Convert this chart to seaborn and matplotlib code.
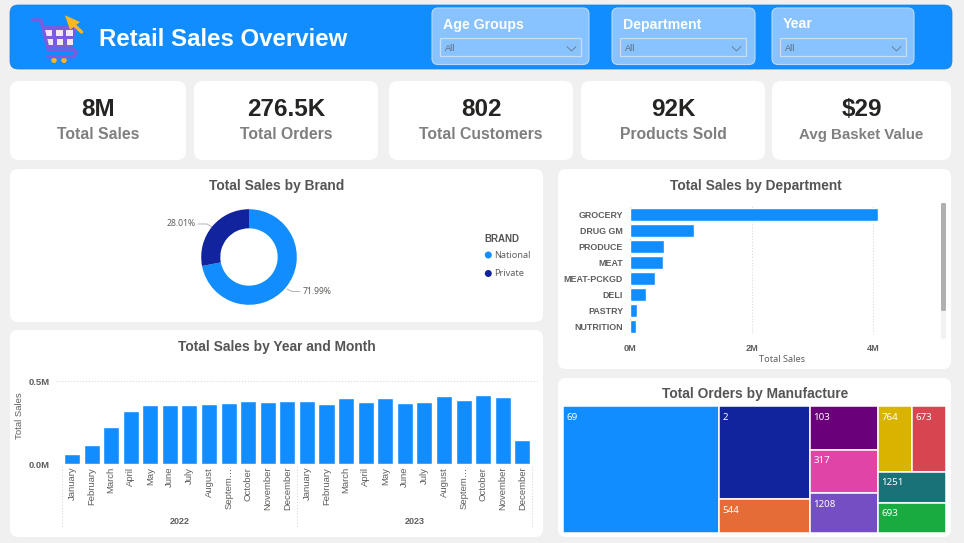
import matplotlib
matplotlib.use('Agg')
import matplotlib.pyplot as plt
import numpy as np
import pandas as pd
import seaborn as sns
from matplotlib.patches import Circle, FancyBboxPatch, Polygon, Rectangle

# chart values
brands = ['National', 'Private']
brand_share = [71.99, 28.01]

departments = ['GROCERY', 'DRUG GM', 'PRODUCE', 'MEAT', 'MEAT-PCKGD', 'DELI', 'PASTRY', 'NUTRITION']
department_sales = [4.07, 1.047, 0.553, 0.548, 0.405, 0.263, 0.12, 0.099]

months = ['January', 'February', 'March', 'April', 'May', 'June', 'July', 'August',
          'Septem…', 'October', 'November', 'December']
sales_2022 = [0.06, 0.115, 0.224, 0.32, 0.355, 0.357, 0.359, 0.365, 0.371, 0.379, 0.377, 0.381]
sales_2023 = [0.383, 0.361, 0.397, 0.375, 0.397, 0.371, 0.373, 0.409, 0.387, 0.415, 0.405, 0.147]

manufacturers = ['69', '2', '544', '103', '317', '1208', '764', '673', '1251', '693']
orders = [19828, 8450, 3041, 2961, 2936, 2692, 2250, 2250, 2124, 2055]
# how the treemap nests: columns, then rows, then cells
manufacturer_groups = [[0], [1, 2], [3, 4, 5], [[6, 7], 8, 9]]

kpi_values = ['8M', '276.5K', '802', '92K', '$29']
kpi_labels = ['Total Sales', 'Total Orders', 'Total Customers', 'Products Sold', 'Avg Basket Value']
slicers = ['Age Groups', 'Department', 'Year']

BLUE = '#118DFF'
NAVY = '#12239E'
TITLE = '#555555'
TEXT = '#605E5C'
tree_colors = [BLUE, NAVY, '#E66C37', '#6B007B', '#E044A7', '#744EC2',
               '#D9B300', '#D64550', '#197278', '#1AAB40']

sns.set_theme(style='white')
plt.rcParams['font.family'] = ['Liberation Sans', 'DejaVu Sans']

W, H = 964, 543
fig = plt.figure(figsize=(W / 100, H / 100), dpi=100, facecolor='#F0F0F0')


def px_axes(left, top, right, bottom):
    ax = fig.add_axes([left / W, 1 - bottom / H, (right - left) / W, (bottom - top) / H])
    ax.patch.set_alpha(0)
    return ax


def card(x0, y0, x1, y1, color='white', edge='none', r=8, lw=0):
    bg.add_patch(FancyBboxPatch((x0, y0), x1 - x0, y1 - y0, boxstyle=f'round,pad=0,rounding_size={r}',
                                fc=color, ec=edge, lw=lw))


# page background in pixel coordinates
bg = fig.add_axes([0, 0, 1, 1])
bg.set_xlim(0, W)
bg.set_ylim(H, 0)
bg.axis('off')

# header
card(10, 5, 952, 69, BLUE, '#0F7FE6', 8, 0.5)
bg.text(99, 39, 'Retail Sales Overview', color='white', fontsize=17.3, fontweight='bold', va='center')

# cart icon
PURPLE = '#7B5CE0'
bg.plot([32.7, 41, 48.3, 74], [20, 20, 50, 50], color=PURPLE, lw=2.4, solid_capstyle='round', solid_joinstyle='round')
bg.plot([74, 76.5, 74, 48], [50, 53, 56.5, 56.5], color=PURPLE, lw=2.4, solid_capstyle='round', solid_joinstyle='round')
bg.add_patch(Polygon([(42.7, 26.3), (76, 26.3), (71.7, 46.3), (46.7, 46.3)], fc=PURPLE, ec=PURPLE))
for cx in [45, 55.7, 65.7]:
    bg.add_patch(Rectangle((cx, 29.7), 7, 6, fc='#F6E6EE', ec='none'))
    bg.add_patch(Rectangle((cx + 1, 38.7), 6.5, 6.3, fc='#F6E6EE', ec='none'))
bg.add_patch(Polygon([(65, 15.3), (80, 22), (70, 29.7)], fc='#FFB81C', ec='none'))
bg.plot([73, 81.5], [24, 32], color='#FFB81C', lw=2.4)
for cx in [54, 64]:
    bg.add_patch(Circle((cx, 60.3), 2.7, fc='#FFB81C', ec='none'))

# slicers
slicer_boxes = [(432, 589, 440, 581), (612, 755, 620, 746), (772, 914, 780, 906)]
for name, (x0, x1, bx0, bx1) in zip(slicers, slicer_boxes):
    card(x0, 8, x1, 64.5, '#88C2FF', '#B5D9FF', 6, 0.8)
    bg.text(bx0 + 3, 24.5, name, color='white', fontsize=10.2, fontweight='bold', va='center')
    bg.add_patch(Rectangle((bx0, 38.3), bx1 - bx0, 18, fc='none', ec='#C9DDF3', lw=0.9))
    bg.text(bx0 + 5, 48.5, 'All', color='#5F6B78', fontsize=6.6, va='center')
    bg.plot([bx1 - 14, bx1 - 9.5, bx1 - 5], [46.5, 51, 46.5], color='#5F6B78', lw=0.5)

# kpi cards
kpi_spans = [(10, 186), (194, 378), (389, 573), (581, 765), (772, 951)]
for value, label, (x0, x1) in zip(kpi_values, kpi_labels, kpi_spans):
    card(x0, 81, x1, 160, r=9)
    bg.text((x0 + x1) / 2, 110, value, color='#252423', fontsize=17.5, fontweight='bold', ha='center', va='center')
    bg.text((x0 + x1) / 2, 134.5, label, color='#7F7F7F', fontsize=11.3 if label != 'Avg Basket Value' else 10.8,
            fontweight='bold', ha='center', va='center')

# chart panels
card(10, 169, 543, 322)
card(558, 169, 951, 369)
card(10, 330, 543, 537)
card(558, 378, 951, 537)
bg.text(277, 186, 'Total Sales by Brand', color=TITLE, fontsize=9.9, fontweight='bold', ha='center', va='center')
bg.text(756, 186, 'Total Sales by Department', color=TITLE, fontsize=9.9, fontweight='bold', ha='center', va='center')
bg.text(277, 346.5, 'Total Sales by Year and Month', color=TITLE, fontsize=9.9, fontweight='bold', ha='center', va='center')
bg.text(755.5, 394, 'Total Orders by Manufacture', color=TITLE, fontsize=9.9, fontweight='bold', ha='center', va='center')

# donut
ax_pie = px_axes(201.2, 209.2, 296.8, 304.8)
ax_pie.pie(brand_share, colors=[BLUE, NAVY], startangle=90, counterclock=False, radius=1,
           wedgeprops={'width': 0.4, 'linewidth': 0})
ax_pie.set_xlim(-1, 1)
ax_pie.set_ylim(-1, 1)
bg.plot([287, 292, 300], [289, 291.5, 291.5], color='#B3B3B3', lw=0.7)
bg.plot([198, 207, 212], [224, 224, 227], color='#B3B3B3', lw=0.7)
bg.text(303, 292, f'{brand_share[0]:.2f}%', color=TEXT, fontsize=6.2, va='center', family=['Noto Sans'])
bg.text(195.5, 224, f'{brand_share[1]:.2f}%', color=TEXT, fontsize=6.2, ha='right', va='center', family=['Noto Sans'])

# legend
bg.text(484, 239.5, 'BRAND', color=TITLE, fontsize=7, fontweight='bold', va='center')
for name, color, y in zip(brands, [BLUE, NAVY], [255, 273.5]):
    bg.add_patch(Circle((488.3, y), 3.5, fc=color, ec='none'))
    bg.text(494.5, y, name, color=TEXT, fontsize=6.6, va='center', family=['Noto Sans'])

# department bars
ax_dep = px_axes(630, 206.3, 937, 334.3)
dep = pd.DataFrame({'department': departments, 'sales': department_sales})
sns.barplot(data=dep, x='sales', y='department', color=BLUE, saturation=1, width=0.78, ax=ax_dep)
ax_dep.set_xlim(0, 307 / 60.83)
ax_dep.set_xticks([0, 2, 4], ['0M', '2M', '4M'])
ax_dep.grid(axis='x', color='#D9D9D9', ls=':', lw=0.8)
ax_dep.set_axisbelow(True)
ax_dep.set_xlabel('Total Sales', color=TEXT, fontsize=6.6, labelpad=1.5, x=0.494, family=['Noto Sans'])
ax_dep.set_ylabel('')
ax_dep.tick_params(axis='y', length=0, pad=5, labelsize=6.4, labelcolor=TEXT)
ax_dep.tick_params(axis='x', length=0, pad=7, labelsize=6.6, labelcolor=TEXT)
for label in ax_dep.get_xticklabels() + ax_dep.get_yticklabels():
    label.set_fontweight('bold')
sns.despine(ax=ax_dep, left=True, bottom=True)

# scrollbar
bg.add_patch(FancyBboxPatch((941, 203), 5, 136, boxstyle='round,pad=0,rounding_size=1.5', fc='#F2F2F2', ec='none'))
bg.add_patch(FancyBboxPatch((941, 203), 5, 108, boxstyle='round,pad=0,rounding_size=1.5', fc='#B0B0B0', ec='none'))

# monthly bars
ax_mon = px_axes(56.3, 372, 537, 464)
monthly = pd.DataFrame({
    'period': [f'2022 {m}' for m in months] + [f'2023 {m}' for m in months],
    'sales': sales_2022 + sales_2023,
})
sns.barplot(data=monthly, x='period', y='sales', color=BLUE, saturation=1, width=0.82, ax=ax_mon)
ax_mon.set_xlim(-0.8, 23.75)
ax_mon.set_ylim(0, 92 / 165.3)
ax_mon.set_yticks([0, 0.5], ['0.0M', '0.5M'])
ax_mon.set_xticks(range(24), months + months, rotation=90)
ax_mon.grid(axis='y', color='#D9D9D9', ls=':', lw=0.8)
ax_mon.set_axisbelow(True)
ax_mon.set_xlabel('')
ax_mon.set_ylabel('Total Sales', color=TEXT, fontsize=6.8, labelpad=3, y=0.53)
ax_mon.tick_params(axis='x', length=0, pad=2, labelsize=6.8, labelcolor=TEXT)
ax_mon.tick_params(axis='y', length=0, pad=5, labelsize=6.8, labelcolor=TEXT)
for label in ax_mon.get_yticklabels():
    label.set_fontweight('bold')
sns.despine(ax=ax_mon, left=True, bottom=True)
for x in [62, 297.3, 532.3]:
    bg.plot([x, x], [466, 528], color='#D9D9D9', ls=':', lw=0.8)
bg.text(179.5, 521, '2022', color=TEXT, fontsize=6.5, fontweight='bold', ha='center', va='center')
bg.text(415, 521, '2023', color=TEXT, fontsize=6.5, fontweight='bold', ha='center', va='center')

# treemap, laid out from the order counts
ax_tree = px_axes(562.7, 406, 946.3, 532.7)
ax_tree.set_xlim(0, 1)
ax_tree.set_ylim(1, 0)
ax_tree.axis('off')


def group_total(node):
    if isinstance(node, int):
        return orders[node]
    return sum(group_total(n) for n in node)


def draw_tree(node, x, y, w, h, across=True):
    if isinstance(node, int):
        ax_tree.add_patch(Rectangle((x, y), w, h, fc=tree_colors[node], ec='white', lw=1.1))
        ax_tree.annotate(manufacturers[node], (x, y), xytext=(2.6, -8), textcoords='offset points',
                         color='white', fontsize=7, va='center', family=['Noto Sans'])
        return
    total = group_total(node)
    for child in node:
        share = group_total(child) / total
        if across:
            draw_tree(child, x, y, w * share, h, False)
            x += w * share
        else:
            draw_tree(child, x, y, w, h * share, True)
            y += h * share


draw_tree(manufacturer_groups, 0, 0, 1, 1)

fig.savefig('out.png', dpi=100, facecolor=fig.get_facecolor())
